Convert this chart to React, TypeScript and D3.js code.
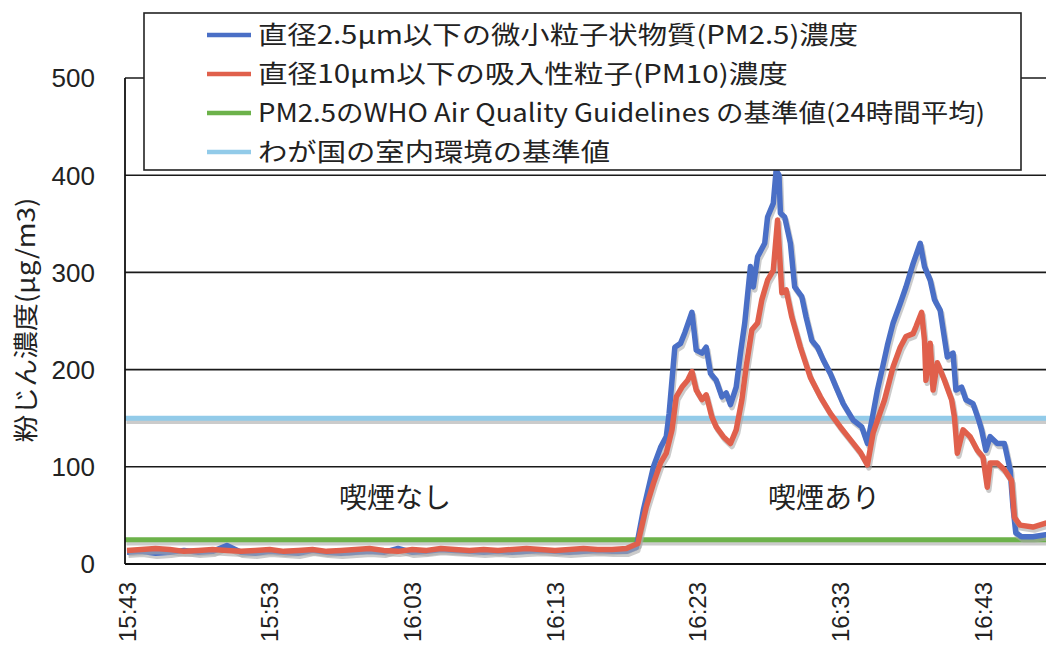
import React from "react";
import * as d3 from "d3";

// minutes after 15:43
const tickMinutes = [0, 10, 20, 30, 40, 50, 60];
const tickLabels = ["15:43", "15:53", "16:03", "16:13", "16:23", "16:33", "16:43"];
const yTicks = [0, 100, 200, 300, 400, 500];
const whoGuideline = 25;
const japanGuideline = 150;

const pm25Minutes = [
  0, 1, 2, 3, 4, 5, 6, 7, 8, 9, 10, 11, 12, 13, 14, 15, 16, 17, 18, 19, 20, 21, 22, 23, 24, 25, 26, 27, 28, 29, 30, 31, 32, 33, 34, 35,
  35.7, 36.2, 36.9, 37.4, 37.8, 38.0, 38.4, 38.8, 39.1, 39.6, 39.9, 40.3, 40.6, 40.9, 41.3, 41.7, 42.0, 42.3, 42.7, 43.0, 43.3,
  43.7, 43.9, 44.2, 44.7, 44.9, 45.3, 45.5, 45.7, 45.8, 46.1, 46.5, 46.8, 47.3, 47.6, 48.0, 48.4, 48.8, 49.3, 49.7, 50.2, 50.9,
  51.5, 51.9, 52.3, 52.6, 53.0, 53.3, 53.7, 54.2, 54.6, 55.1, 55.6, 55.9, 56.3, 56.6, 57.0, 57.5, 57.9, 58.1, 58.5, 58.8, 59.3,
  59.7, 59.9, 60.2, 60.5, 61.0, 61.5, 61.9, 62.1, 62.3, 62.7, 63.5, 64.4, 65.0,
];
const pm25Values = [
  12, 13, 11, 12, 14, 12, 13, 19, 12, 11, 13, 12, 11, 14, 12, 11, 12, 13, 12, 16, 12, 13, 15, 14, 13, 12, 13, 12, 13, 14, 13, 12, 13, 14, 13, 13,
  17, 56, 100, 120, 131, 155, 223, 227, 238, 259, 220, 217, 223, 196, 189, 172, 176, 164, 182, 217, 248,
  306, 285, 316, 330, 357, 371, 405, 400, 361, 357, 330, 285, 275, 254, 230, 223, 210, 196, 182, 165, 148,
  141, 124, 155, 179, 205, 225, 248, 268, 285, 309, 330, 306, 292, 272, 261, 213, 217, 179, 182, 169, 165,
  148, 138, 117, 131, 124, 124, 97, 59, 32, 28, 28, 30, 31,
];

const pm10Minutes = [
  0, 1, 2, 3, 4, 5, 6, 7, 8, 9, 10, 11, 12, 13, 14, 15, 16, 17, 18, 19, 20, 21, 22, 23, 24, 25, 26, 27, 28, 29, 30, 31, 32, 33, 34, 35,
  35.8, 36.4, 36.9, 37.4, 37.8, 38.2, 38.5, 38.9, 39.3, 39.6, 39.9, 40.3, 40.6, 41.0, 41.3, 41.8, 42.3, 42.7, 43.1, 43.4, 43.8,
  44.2, 44.5, 44.9, 45.3, 45.6, 45.9, 46.2, 46.6, 47.2, 47.9, 48.6, 49.3, 50.0, 50.7, 51.4, 51.9, 52.3, 53.1, 53.7, 54.2, 54.6,
  55.1, 55.3, 55.7, 55.9, 56.0, 56.3, 56.5, 56.8, 57.3, 57.8, 58.0, 58.2, 58.6, 59.1, 59.6, 60.0, 60.3, 60.5, 61.0, 61.5, 62.0,
  62.2, 62.6, 63.5, 64.4, 65.0,
];
const pm10Values = [
  14, 15, 16, 15, 13, 14, 15, 14, 13, 14, 15, 13, 14, 15, 13, 14, 15, 16, 14, 13, 15, 14, 16, 15, 14, 15, 14, 15, 16, 15, 14, 15, 16, 15, 15, 16,
  21, 59, 83, 104, 114, 138, 172, 182, 189, 198, 179, 169, 174, 151, 141, 131, 124, 138, 169, 203, 241,
  248, 272, 292, 302, 354, 279, 282, 254, 223, 192, 172, 155, 141, 128, 115, 102, 135, 169, 203, 223, 234,
  237, 244, 259, 230, 189, 227, 179, 207, 189, 169, 151, 114, 138, 131, 117, 110, 79, 104, 104, 97, 86,
  48, 40, 38, 42, 44,
];

const legendLabels = [
  "直径2.5μm以下の微小粒子状物質(PM2.5)濃度",
  "直径10μm以下の吸入性粒子(PM10)濃度",
  "PM2.5のWHO Air Quality Guidelines の基準値(24時間平均)",
  "わが国の室内環境の基準値",
];
const legendTextWidths = [600, 530, 727, 352];

const BLUE = "#4a6fc6";
const RED = "#e0604c";
const GREEN = "#6cb24a";
const LIGHTBLUE = "#92cbe9";
const legendColors = [BLUE, RED, GREEN, LIGHTBLUE];

const W = 1046;
const H = 646;

export default function App() {
  const x = d3.scaleLinear().domain([0, 60]).range([127, 983]);
  const y = d3.scaleLinear().domain([0, 500]).range([564, 78]);
  const plotLeft = 125;
  const plotRight = W;

  const line = d3
    .line<[number, number]>()
    .x((d) => x(d[0]))
    .y((d) => y(d[1]));

  const pm25 = line(pm25Minutes.map((m, i) => [m, pm25Values[i]] as [number, number])) || "";
  const pm10 = line(pm10Minutes.map((m, i) => [m, pm10Values[i]] as [number, number])) || "";

  const cjk = "'Noto Sans CJK JP', 'Noto Sans', sans-serif";
  const latin = "'Liberation Sans', Arial, sans-serif";

  const shadowProps = {
    fill: "none",
    stroke: "#a8a8a8",
    strokeOpacity: 0.6,
    strokeWidth: 5.5,
    transform: "translate(1.5,3)",
    strokeLinejoin: "round" as const,
  };

  return (
    <svg
      width={W}
      height={H}
      style={{ position: "absolute", left: 0, top: 0, display: "block", background: "#fff" }}
    >
      <defs>
        <clipPath id="plotClip">
          <rect x={plotLeft} y={0} width={plotRight - plotLeft} height={y(0)} />
        </clipPath>
      </defs>
      <rect x={0} y={0} width={W} height={H} fill="#fff" />

      {/* gridlines */}
      {yTicks.slice(1).map((t) => (
        <line key={t} x1={plotLeft} x2={plotRight} y1={y(t)} y2={y(t)} stroke="#1a1a1a" strokeWidth={1.6} />
      ))}

      {/* guideline lines and series */}
      <g clipPath="url(#plotClip)">
        <line x1={plotLeft} x2={plotRight} y1={y(japanGuideline)} y2={y(japanGuideline)} {...shadowProps} />
        <line x1={plotLeft} x2={plotRight} y1={y(japanGuideline)} y2={y(japanGuideline)} stroke={LIGHTBLUE} strokeWidth={5} />
        <line x1={plotLeft} x2={plotRight} y1={y(whoGuideline)} y2={y(whoGuideline)} {...shadowProps} />
        <line x1={plotLeft} x2={plotRight} y1={y(whoGuideline)} y2={y(whoGuideline)} stroke={GREEN} strokeWidth={5} />

        <path d={pm25} {...shadowProps} />
        <path d={pm25} fill="none" stroke={BLUE} strokeWidth={5.5} strokeLinejoin="round" />
        <path d={pm10} {...shadowProps} />
        <path d={pm10} fill="none" stroke={RED} strokeWidth={5.5} strokeLinejoin="round" />
      </g>

      {/* axes */}
      <line x1={plotLeft} x2={plotLeft} y1={y(500)} y2={y(0)} stroke="#111" strokeWidth={1.8} />
      <line x1={plotLeft} x2={plotRight} y1={y(0)} y2={y(0)} stroke="#111" strokeWidth={1.8} />

      {/* y tick labels */}
      {yTicks.map((t) => (
        <text key={t} x={95} y={y(t)} dy="0.36em" textAnchor="end" fontFamily={latin} fontSize={26} fill="#222">
          {t}
        </text>
      ))}

      {/* x tick labels */}
      {tickMinutes.map((m, i) => (
        <text
          key={m}
          transform={`translate(${x(m)},582) rotate(-90)`}
          textAnchor="end"
          dy="0.36em"
          fontFamily={latin}
          fontSize={24}
          fill="#222"
        >
          {tickLabels[i]}
        </text>
      ))}

      {/* y axis title */}
      <text
        transform="translate(26,320) rotate(-90)"
        textAnchor="middle"
        dy="0.36em"
        fontFamily={cjk}
        fontSize={25}
        fill="#222"
        textLength={245}
        lengthAdjust="spacingAndGlyphs"
      >
        粉じん濃度(μg/m3)
      </text>

      {/* annotations */}
      <text x={395} y={498} dy="0.36em" textAnchor="middle" fontFamily={cjk} fontSize={28} fill="#222">
        喫煙なし
      </text>
      <text x={824} y={498} dy="0.36em" textAnchor="middle" fontFamily={cjk} fontSize={28} fill="#222">
        喫煙あり
      </text>

      {/* legend */}
      <rect x={144} y={13} width={877} height={157} fill="#fff" stroke="#222" strokeWidth={1.6} />
      {legendLabels.map((lab, i) => {
        const ly = [35, 74, 113, 152][i];
        return (
          <g key={lab}>
            <line x1={207} x2={251} y1={ly} y2={ly} stroke={legendColors[i]} strokeWidth={4.5} />
            <text
              x={258}
              y={ly}
              dy="0.36em"
              fontFamily={cjk}
              fontSize={25}
              fill="#222"
              textLength={legendTextWidths[i]}
              lengthAdjust="spacingAndGlyphs"
            >
              {lab}
            </text>
          </g>
        );
      })}
    </svg>
  );
}
